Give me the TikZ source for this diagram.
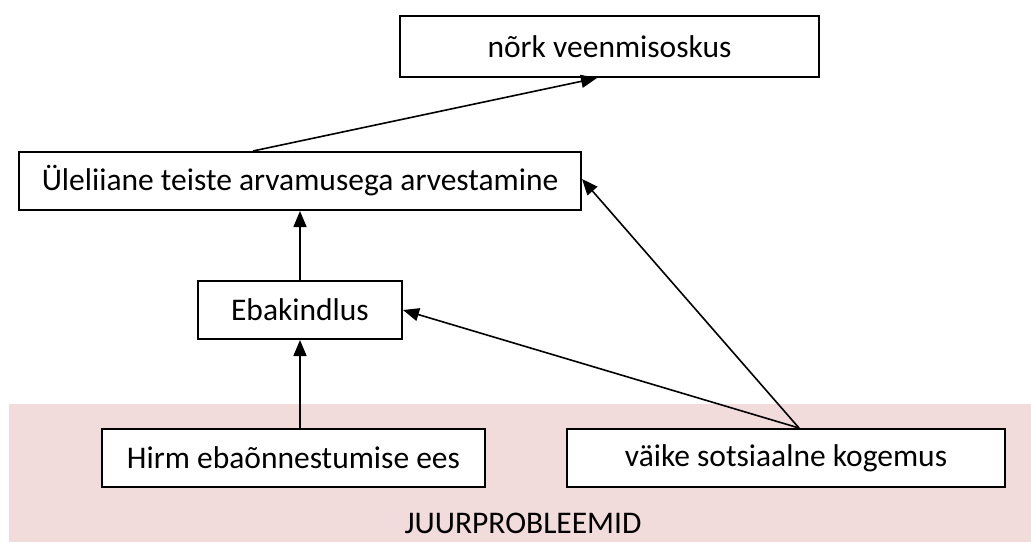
\documentclass[tikz,border=0pt]{standalone}
\usepackage{fontspec}
\setmainfont{Carlito}
\usetikzlibrary{arrows.meta}
\definecolor{rootpink}{RGB}{242,220,219}
\begin{document}
\begin{tikzpicture}[x=1pt,y=-1pt,
  box/.style={draw=black, line width=2pt, fill=white, inner sep=0pt,
    font=\fontsize{31.5}{38}\selectfont},
  link/.style={line width=1.6pt, -{Triangle[length=16pt,width=13pt]}}]
\useasboundingbox (0,0) rectangle (1031,542);
% background band for the root problems
\fill[rootpink] (9,404) rectangle (1031,542);
\node[font=\fontsize{31.5}{38}\selectfont, inner sep=0pt, anchor=base] (root) at (523,533) {JUURPROBLEEMID};
% boxes
\node[box, minimum width=419pt, minimum height=61pt] (nork) at (609.5,46.5) {nõrk veenmisoskus};
\node[box, minimum width=562pt, minimum height=58pt] (ule) at (300,181) {Üleliiane teiste arvamusega arvestamine};
\node[box, minimum width=204pt, minimum height=58pt] (eba) at (300,310) {Ebakindlus};
\node[box, minimum width=383pt, minimum height=58pt] (hirm) at (293.5,458) {Hirm ebaõnnestumise ees};
\node[box, minimum width=438pt, minimum height=58pt] (vaike) at (786,458) {väike sotsiaalne kogemus};
% connectors
\draw[link] ([xshift=-47pt]ule.north) -- ([xshift=-12.5pt]nork.south);
\draw[link] (eba.north) -- (ule.south);
\draw[link] (hirm.north -| eba.south) -- (eba.south);
\draw[link] ([xshift=13pt]vaike.north) -- (eba.east);
\draw[link] ([xshift=13pt]vaike.north) -- ([yshift=2pt]ule.east);
\end{tikzpicture}
\end{document}
